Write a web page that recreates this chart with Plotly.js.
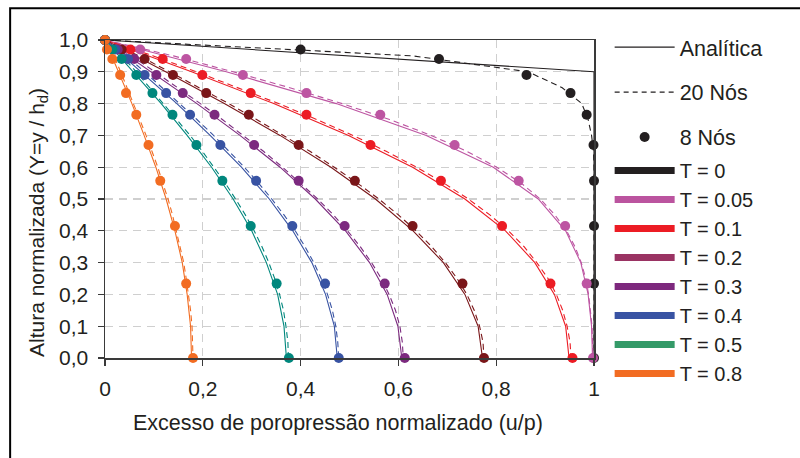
<!DOCTYPE html>
<html>
<head>
<meta charset="utf-8">
<script src="https://cdn.plot.ly/plotly-3.0.1.min.js"></script>
<style>html,body{margin:0;padding:0;background:#fff;}#chart{width:800px;height:458px;}</style>
</head>
<body>
<div id="chart"></div>
<script>
// ---- Data ----
const seriesLabels = ['T = 0','T = 0.05','T = 0.1','T = 0.2','T = 0.3','T = 0.4','T = 0.5','T = 0.8'];
const xTitle = 'Excesso de poropressão normalizado (u/p)';
const yTitle = 'Altura normalizada (Y=y / h<sub>d</sub>)';

// Y levels
const yAnalytic = [1.0,0.9,0.8,0.7,0.6,0.5,0.4,0.3,0.2,0.1,0.0];
const y20Nos = [1.0,0.95,0.9,0.85,0.8,0.75,0.7,0.65,0.6,0.55,0.5,0.45,0.4,0.35,0.3,0.25,0.2,0.15,0.1,0.05,0.0];
const y8Nos = [1.0,0.97,0.94,0.89,0.833,0.765,0.67,0.557,0.415,0.234,0.0];

// Analytical solution (u/p) at yAnalytic
const anaT0   = [0,1,1,1,1,1,1,1,1,1,1];
const anaT005 = [0,0.248,0.473,0.657,0.794,0.886,0.942,0.973,0.988,0.995,0.997];
const anaT01  = [0,0.177,0.345,0.498,0.629,0.736,0.819,0.879,0.919,0.942,0.949];
const anaT02  = [0,0.124,0.244,0.358,0.462,0.553,0.630,0.692,0.736,0.763,0.772];
const anaT03  = [0,0.095,0.188,0.276,0.358,0.430,0.492,0.541,0.577,0.599,0.607];
const anaT04  = [0,0.074,0.147,0.215,0.279,0.336,0.384,0.423,0.451,0.469,0.475];
const anaT05  = [0,0.058,0.115,0.168,0.218,0.262,0.300,0.330,0.353,0.366,0.371];
const anaT08  = [0,0.028,0.055,0.080,0.104,0.125,0.143,0.158,0.168,0.175,0.177];

// 20-node numerical solution (u/p) at y20Nos
const n20T0   = [0,0.630,0.865,0.935,0.975,0.988,0.995,0.999,1,1,1,1,1,1,1,1,1,1,1,1,1];
const n20T005 = [0,0.140,0.262,0.378,0.485,0.582,0.667,0.740,0.801,0.851,0.890,0.920,0.944,0.961,0.974,0.983,0.989,0.993,0.996,0.997,0.998];
const n20T01  = [0,0.099,0.187,0.273,0.355,0.433,0.507,0.575,0.637,0.693,0.743,0.787,0.825,0.857,0.883,0.906,0.923,0.936,0.945,0.951,0.953];
const n20T02  = [0,0.070,0.132,0.193,0.253,0.310,0.366,0.419,0.469,0.516,0.560,0.600,0.636,0.668,0.696,0.720,0.740,0.755,0.766,0.773,0.775];
const n20T03  = [0,0.054,0.102,0.149,0.195,0.240,0.283,0.324,0.363,0.400,0.435,0.467,0.496,0.522,0.545,0.565,0.581,0.594,0.603,0.608,0.610];
const n20T04  = [0,0.043,0.081,0.117,0.153,0.188,0.222,0.254,0.285,0.314,0.341,0.366,0.389,0.409,0.427,0.442,0.455,0.465,0.472,0.476,0.478];
const n20T05  = [0,0.034,0.064,0.092,0.120,0.147,0.174,0.199,0.223,0.246,0.267,0.287,0.305,0.321,0.335,0.347,0.357,0.365,0.370,0.374,0.375];
const n20T08  = [0,0.018,0.032,0.045,0.059,0.072,0.084,0.096,0.108,0.118,0.129,0.138,0.146,0.154,0.161,0.166,0.171,0.175,0.178,0.179,0.180];

// 8-node numerical solution (u/p) at y8Nos
const n8T0   = [0,0.400,0.683,0.862,0.952,0.985,0.999,1,1,1,1];
const n8T005 = [0,0.072,0.166,0.282,0.412,0.563,0.715,0.846,0.941,0.985,0.998];
const n8T01  = [0,0.052,0.118,0.199,0.298,0.412,0.543,0.687,0.812,0.911,0.956];
const n8T02  = [0,0.034,0.081,0.139,0.207,0.294,0.396,0.511,0.629,0.731,0.775];
const n8T03  = [0,0.026,0.060,0.105,0.159,0.224,0.305,0.396,0.490,0.572,0.613];
const n8T04  = [0,0.021,0.047,0.081,0.125,0.174,0.236,0.309,0.383,0.450,0.478];
const n8T05  = [0,0.015,0.034,0.064,0.097,0.138,0.187,0.240,0.298,0.351,0.376];
const n8T08  = [0,0.004,0.015,0.031,0.043,0.064,0.089,0.113,0.143,0.166,0.180];

const xTickVals = [0,0.2,0.4,0.6,0.8,1];
const xTickText = ['0','0,2','0,4','0,6','0,8','1'];
const yTickVals = [0,0.1,0.2,0.3,0.4,0.5,0.6,0.7,0.8,0.9,1.0];
const yTickText = ['0,0','0,1','0,2','0,3','0,4','0,5','0,6','0,7','0,8','0,9','1,0'];

// ---- Styles ----
const plotColors   = ['#231f20','#bd55a2','#ec1c24','#7a1619','#7c2a7f','#3853a3','#00877d','#f26c22'];
const legendColors = ['#231f20','#bb549f','#ec1c24','#9a3363','#7d287d','#3853a3','#349a68','#f26c22'];

const anaSets = [anaT0,anaT005,anaT01,anaT02,anaT03,anaT04,anaT05,anaT08];
const n20Sets = [n20T0,n20T005,n20T01,n20T02,n20T03,n20T04,n20T05,n20T08];
const n8Sets  = [n8T0,n8T005,n8T01,n8T02,n8T03,n8T04,n8T05,n8T08];

const FONT = 'Liberation Sans, Arial, Helvetica, sans-serif';
const TXT = '#231f20';

const traces = [];
for (let i = 0; i < seriesLabels.length; i++) {
  traces.push({type:'scatter', mode:'lines', x:anaSets[i], y:yAnalytic, showlegend:false, cliponaxis:false,
    line:{color:plotColors[i], width:1.1}, hoverinfo:'skip'});
  traces.push({type:'scatter', mode:'lines', x:n20Sets[i], y:y20Nos, showlegend:false, cliponaxis:false,
    line:{color:plotColors[i], width:1.1, dash:'6px,4px'}, hoverinfo:'skip'});
}
for (let i = 0; i < seriesLabels.length; i++) {
  traces.push({type:'scatter', mode:'markers', x:n8Sets[i], y:y8Nos, showlegend:false, cliponaxis:false,
    marker:{color:plotColors[i], size:10, line:{width:0}}, hoverinfo:'skip'});
}
// Legend entries (method legend)
traces.push({type:'scatter', mode:'lines', x:[null], y:[null], name:'Analítica', legend:'legend', legendgroup:'a',
  line:{color:'#231f20', width:1.2}});
traces.push({type:'scatter', mode:'lines', x:[null], y:[null], name:'20 Nós', legend:'legend', legendgroup:'b',
  line:{color:'#231f20', width:1.2, dash:'5px,4px'}});
traces.push({type:'scatter', mode:'markers', x:[null], y:[null], name:'8 Nós', legend:'legend', legendgroup:'c',
  marker:{color:'#231f20', size:10}});
// Legend entries (time factor legend)
for (let i = 0; i < seriesLabels.length; i++) {
  traces.push({type:'scatter', mode:'lines', x:[null], y:[null], name:seriesLabels[i], legend:'legend2',
    line:{color:legendColors[i], width:7}});
}

const layout = {
  width:800, height:458,
  margin:{l:105, r:206, t:40, b:100, pad:0},
  paper_bgcolor:'#ffffff', plot_bgcolor:'#ffffff',
  font:{family:FONT, size:20, color:TXT},
  showlegend:true,
  xaxis:{
    range:[0,1], fixedrange:true,
    tickvals:xTickVals, ticktext:xTickText,
    ticks:'outside', ticklen:6, tickwidth:1.2, tickcolor:'#3a3a3a',
    ticklabelstandoff:5,
    showline:true, linecolor:'#3a3a3a', linewidth:1.5, mirror:true,
    showgrid:true, gridcolor:'#cfcfcf', gridwidth:1.2, griddash:'8px,6px',
    zeroline:false,
    tickfont:{family:FONT, size:21, color:TXT}
  },
  yaxis:{
    range:[0,1], fixedrange:true,
    tickvals:yTickVals, ticktext:yTickText,
    ticks:'outside', ticklen:6, tickwidth:1.2, tickcolor:'#3a3a3a',
    ticklabelstandoff:5,
    showline:true, linecolor:'#3a3a3a', linewidth:1.5, mirror:true,
    showgrid:true, gridcolor:'#cfcfcf', gridwidth:1.2, griddash:'8px,6px',
    zeroline:false,
    tickfont:{family:FONT, size:21, color:TXT}
  },
  annotations:[
    {text:xTitle, xref:'paper', yref:'paper', x:0.4765, y:-0.204, xanchor:'center', yanchor:'middle',
     showarrow:false, font:{family:FONT, size:21.5, color:TXT}},
    {text:yTitle, xref:'paper', yref:'paper', x:-0.137, y:0.4245, xanchor:'center', yanchor:'middle',
     textangle:-90, showarrow:false, font:{family:FONT, size:21, color:TXT}}
  ],
  legend:{x:1.032, xanchor:'left', y:1.042, yanchor:'top', bgcolor:'rgba(0,0,0,0)', borderwidth:0,
    font:{family:FONT, size:21.5, color:TXT}, traceorder:'grouped', tracegroupgap:14, itemwidth:60},
  legend2:{x:1.032, xanchor:'left', y:0.651, yanchor:'top', bgcolor:'rgba(0,0,0,0)', borderwidth:0,
    font:{family:FONT, size:20, color:TXT}, tracegroupgap:0, itemwidth:60},
  shapes:[
    {type:'rect', xref:'paper', yref:'paper', x0:-0.194, x1:1.45, y0:-0.36, y1:1.100,
     line:{color:'#000000', width:2}, fillcolor:'rgba(0,0,0,0)', layer:'below'}
  ]
};

Plotly.newPlot('chart', traces, layout, {staticPlot:true, displayModeBar:false});
</script>
</body>
</html>
